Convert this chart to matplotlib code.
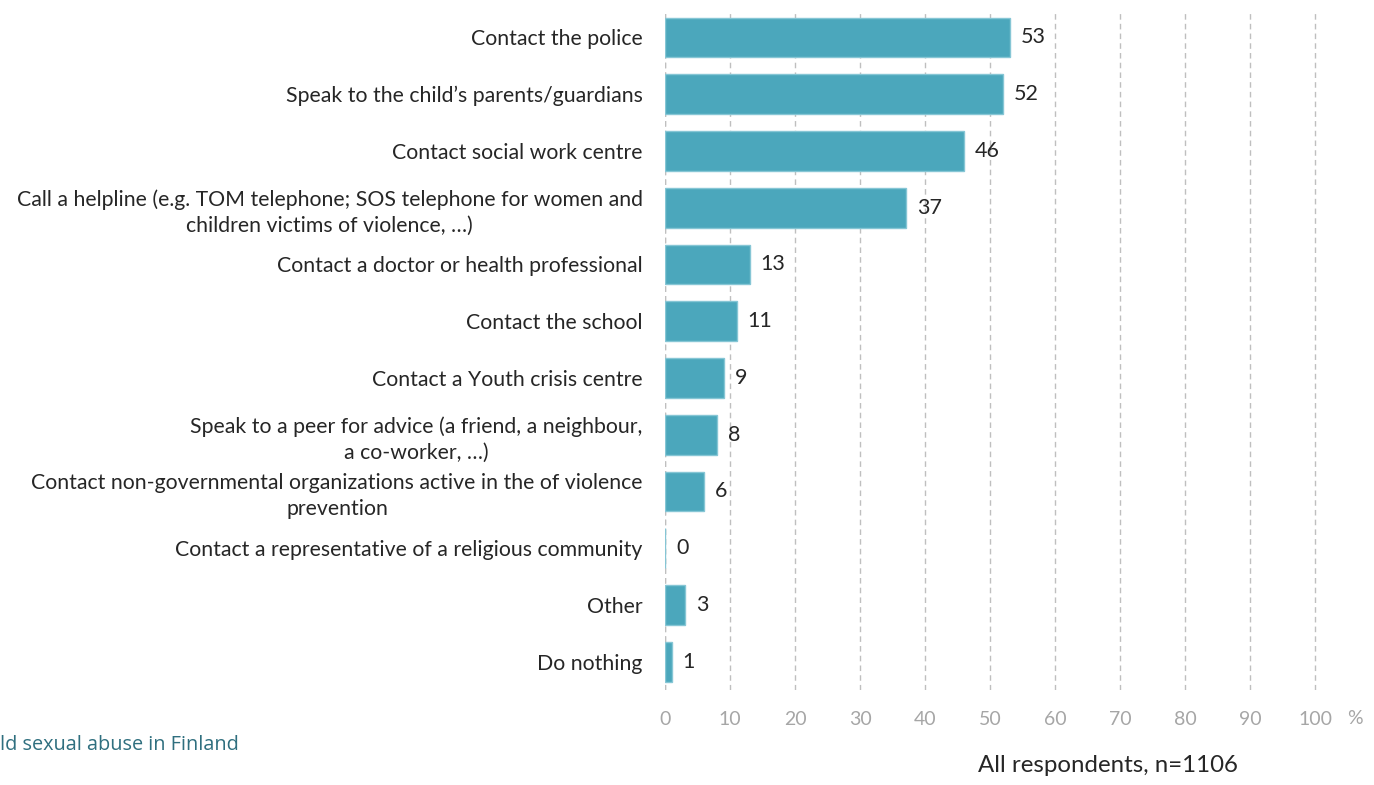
import matplotlib.pyplot as plt

plt.rcParams["font.family"] = ["Lato", "DejaVu Sans"]

actions = [
    "Contact the police",
    "Speak to the child\u2019s parents/guardians",
    "Contact social work centre",
    "Call a helpline (e.g. TOM telephone; SOS telephone for women and\nchildren victims of violence, \u2026)",
    "Contact a doctor or health professional",
    "Contact the school",
    "Contact a Youth crisis centre",
    "Speak to a peer for advice (a friend, a neighbour,\na co-worker, \u2026)",
    "Contact non-governmental organizations active in the of violence\nprevention",
    "Contact a representative of a religious community",
    "Other",
    "Do nothing",
]
shares = [53, 52, 46, 37, 13, 11, 9, 8, 6, 0, 3, 1]
x_ticks = [0, 10, 20, 30, 40, 50, 60, 70, 80, 90, 100]

fig = plt.figure(figsize=(13.74, 7.85), dpi=100)
ax = fig.add_axes([0.484, 0.121, 0.4745, 0.866])

pos = list(range(len(actions)))
bars = ax.barh(pos, shares, height=0.7, color="#4BA7BC",
               edgecolor="#86C6D5", linewidth=1, zorder=3)
ax.bar_label(bars, labels=[str(v) for v in shares], padding=8,
             fontsize=15.5, color="#262626", zorder=4)

ax.set_ylim(11.5, -0.48)
ax.set_xlim(0, 100.3)
ax.set_yticks(pos)
ax.set_yticklabels(actions, fontsize=15.3, color="#262626",
                   multialignment="center", linespacing=1.35)
ax.set_xticks(x_ticks)
ax.set_xticklabels([str(t) for t in x_ticks], fontsize=14, color="#A6A6A6")
ax.tick_params(axis="y", length=0, pad=16)
ax.tick_params(axis="x", length=0, pad=15)

ax.grid(axis="x", color="#BFBFBF", linestyle=(0, (4, 3)), linewidth=1,
        zorder=0)
ax.axvline(0, color="#BFBFBF", linestyle=(0, (4, 3)), linewidth=1, zorder=0)
for side in ax.spines.values():
    side.set_visible(False)

fig.text(1355 / 1374, 1 - 718 / 785, "%", fontsize=14, color="#A6A6A6",
         ha="center", va="center")
fig.text(0.0, 1 - 745 / 785, "ld sexual abuse in Finland", fontsize=14.3,
         color="#2F6F7F", ha="left", va="center", family="Open Sans")
fig.text(1238 / 1374, 1 - 766 / 785, "All respondents, n=1106", fontsize=17.3,
         color="#262626", ha="right", va="center")

fig.savefig("out.png", dpi=100)
